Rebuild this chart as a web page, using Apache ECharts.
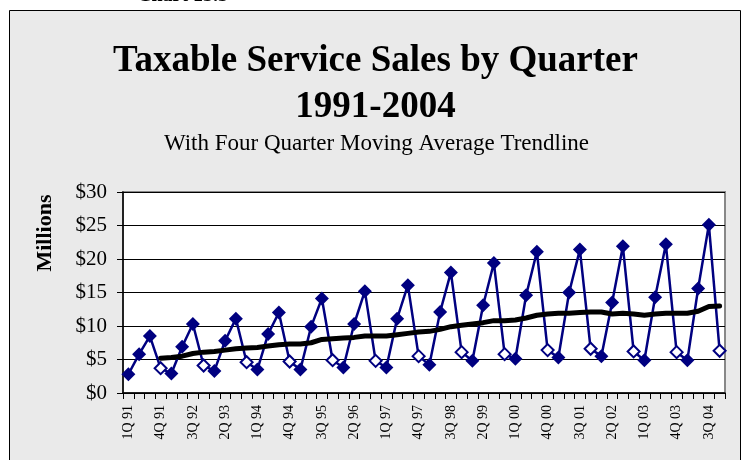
<!DOCTYPE html>
<html>
<head>
<meta charset="utf-8">
<script src="https://cdn.jsdelivr.net/npm/echarts@6/dist/echarts.min.js"></script>
<style>
html,body{margin:0;padding:0;background:#ffffff;}
#chart{width:745px;height:460px;}
</style>
</head>
<body>
<div id="chart"></div>
<script>
var quarters = [
  '1Q 91','2Q 91','3Q 91','4Q 91','1Q 92','2Q 92','3Q 92','4Q 92',
  '1Q 93','2Q 93','3Q 93','4Q 93','1Q 94','2Q 94','3Q 94','4Q 94',
  '1Q 95','2Q 95','3Q 95','4Q 95','1Q 96','2Q 96','3Q 96','4Q 96',
  '1Q 97','2Q 97','3Q 97','4Q 97','1Q 98','2Q 98','3Q 98','4Q 98',
  '1Q 99','2Q 99','3Q 99','4Q 99','1Q 00','2Q 00','3Q 00','4Q 00',
  '1Q 01','2Q 01','3Q 01','4Q 01','1Q 02','2Q 02','3Q 02','4Q 02',
  '1Q 03','2Q 03','3Q 03','4Q 03','1Q 04','2Q 04','3Q 04','4Q 04'
];
// Taxable service sales, millions of dollars
var sales = [
  2.8, 5.8, 8.5, 3.7,   2.9, 6.9, 10.3, 4.1,
  3.3, 7.8, 11.1, 4.6,  3.5, 8.8, 12.0, 4.7,
  3.5, 9.9, 14.1, 4.9,  3.8, 10.3, 15.2, 4.8,
  3.8, 11.1, 16.1, 5.5, 4.2, 12.1, 18.0, 6.1,
  4.8, 13.1, 19.4, 5.8, 5.1, 14.6, 21.1, 6.4,
  5.3, 15.0, 21.4, 6.6, 5.5, 13.5, 21.9, 6.2,
  4.9, 14.3, 22.2, 6.1, 4.9, 15.6, 25.1, 6.3
];
// Four quarter moving average trendline
var trend = [
  null, null, null, 5.2,  5.3, 5.5, 5.9, 6.1,
  6.2, 6.4, 6.6, 6.7,     6.8, 7.0, 7.2, 7.3,
  7.3, 7.5, 8.0, 8.1,     8.2, 8.3, 8.5, 8.5,
  8.5, 8.7, 8.9, 9.1,     9.2, 9.5, 9.9, 10.1,
  10.3, 10.5, 10.8, 10.8, 10.9, 11.2, 11.6, 11.8,
  11.9, 11.9, 12.0, 12.1, 12.1, 11.8, 11.9, 11.8,
  11.6, 11.8, 11.9, 11.9, 11.9, 12.2, 12.9, 13.0
];
var yTicks = {min: 0, max: 30, interval: 5};

var NAVY = '#000080';
var SERIF = '"Liberation Serif","Times New Roman",serif';

var salesData = sales.map(function (v, i) {
  if (quarters[i].indexOf('4Q') === 0) {
    return {value: v, symbolSize: 12, itemStyle: {color: '#ffffff', borderColor: NAVY, borderWidth: 2}};
  }
  return v;
});

var chart = echarts.init(document.getElementById('chart'), null, {renderer: 'canvas'});
chart.setOption({
  animation: false,
  backgroundColor: '#ffffff',
  graphic: [
    {type: 'rect', z: -100, silent: true,
     shape: {x: 9.5, y: 10.5, width: 731, height: 470},
     style: {fill: '#EAEAEA', stroke: '#000000', lineWidth: 1}},
    {type: 'text', z: 100, x: 137, y: 6,
     style: {text: 'Chart 13.3', font: 'bold 20px ' + SERIF, fill: '#000', align: 'left', verticalAlign: 'bottom'}},
    {type: 'text', z: 100, x: 375.5, y: 61.5,
     style: {text: 'Taxable Service Sales by Quarter', font: 'bold 37px ' + SERIF, fill: '#000', align: 'center', verticalAlign: 'middle'}},
    {type: 'text', z: 100, x: 375.5, y: 107.5,
     style: {text: '1991-2004', font: 'bold 37px ' + SERIF, fill: '#000', align: 'center', verticalAlign: 'middle'}},
    {type: 'text', z: 100, x: 376.5, y: 143.5,
     style: {text: 'With Four Quarter Moving Average Trendline', font: '23px ' + SERIF, fill: '#000', align: 'center', verticalAlign: 'middle'}},
    {type: 'text', z: 100, x: 45, y: 233, rotation: Math.PI / 2,
     style: {text: 'Millions', font: 'bold 22px ' + SERIF, fill: '#000', align: 'center', verticalAlign: 'middle'}}
  ],
  grid: {
    left: 123, top: 192, right: 20, bottom: 67,
    show: true, backgroundColor: '#ffffff', borderColor: '#888888', borderWidth: 2
  },
  xAxis: {
    type: 'category',
    data: quarters,
    boundaryGap: true,
    axisLine: {show: true, lineStyle: {color: '#000', width: 1.5}},
    axisTick: {show: true, interval: 0, length: 6, inside: false, lineStyle: {color: '#000', width: 1}},
    axisLabel: {
      interval: 2, rotate: 90, margin: 12,
      fontFamily: SERIF, fontSize: 14, color: '#000'
    },
    splitLine: {show: false}
  },
  yAxis: {
    type: 'value',
    min: yTicks.min, max: yTicks.max, interval: yTicks.interval,
    axisLine: {show: true, lineStyle: {color: '#000', width: 1.5}},
    axisTick: {show: true, length: 6, lineStyle: {color: '#000', width: 1}},
    axisLabel: {
      formatter: function (v) { return '$' + v; },
      margin: 16, fontFamily: SERIF, fontSize: 21, color: '#000'
    },
    splitLine: {show: true, lineStyle: {color: '#000', width: 1}}
  },
  series: [
    {
      name: 'Sales', type: 'line', data: salesData,
      symbol: 'diamond', symbolSize: 14, showAllSymbol: true,
      lineStyle: {color: NAVY, width: 2.5},
      itemStyle: {color: NAVY, borderColor: NAVY, borderWidth: 0},
      z: 2
    },
    {
      name: '4 per. Mov. Avg.', type: 'line', data: trend,
      symbol: 'none', connectNulls: false,
      lineStyle: {color: '#000', width: 5, join: 'round', cap: 'round'},
      z: 3
    }
  ]
});
</script>
</body>
</html>
